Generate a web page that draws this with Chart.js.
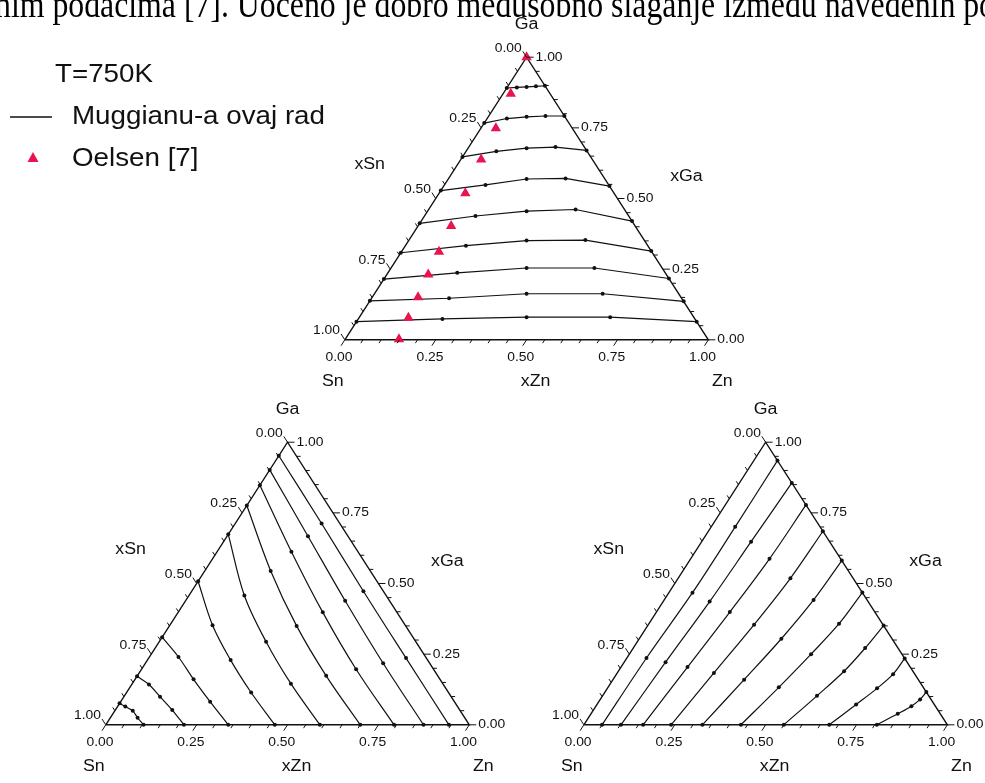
<!DOCTYPE html>
<html><head><meta charset="utf-8">
<script src="https://cdn.jsdelivr.net/npm/chart.js@4.4.1/dist/chart.umd.min.js"></script>
<style>html,body{margin:0;padding:0;background:#fff;overflow:hidden}#wrap{width:985px;height:783px}</style>
</head><body><div id="wrap"><canvas id="c" width="985" height="783"></canvas></div>
<script>
// ---------------- DATA ----------------
// sections: ratio r of the two non-fixed components, from 0 to 1
const sections = [0, 0.25, 0.5, 0.75, 1];
// Top diagram: xGa along sections r = xZn/(xZn+xSn)
const topGa = [
  [0.891, 0.893, 0.895, 0.897, 0.899],
  [0.767, 0.783, 0.789, 0.792, 0.792],
  [0.647, 0.667, 0.678, 0.682, 0.670],
  [0.528, 0.548, 0.569, 0.571, 0.544],
  [0.412, 0.438, 0.455, 0.461, 0.420],
  [0.308, 0.333, 0.351, 0.353, 0.314],
  [0.215, 0.237, 0.254, 0.254, 0.217],
  [0.138, 0.147, 0.163, 0.163, 0.136],
  [0.064, 0.074, 0.080, 0.080, 0.064]
];
// Bottom-left diagram: xSn along sections r = xGa/(xGa+xZn)
const leftSn = [
  [0.056, 0.056, 0.055, 0.050, 0.048],
  [0.126, 0.128, 0.122, 0.110, 0.098],
  [0.207, 0.213, 0.204, 0.183, 0.152],
  [0.300, 0.307, 0.300, 0.274, 0.224],
  [0.411, 0.418, 0.412, 0.390, 0.326],
  [0.535, 0.543, 0.542, 0.530, 0.492],
  [0.663, 0.672, 0.678, 0.680, 0.690],
  [0.785, 0.791, 0.801, 0.810, 0.828],
  [0.896, 0.900, 0.901, 0.914, 0.924]
];
// Bottom-right diagram: xZn along sections r = xGa/(xGa+xSn)
const rightZn = [
  [0.050, 0.054, 0.065, 0.066, 0.065],
  [0.102, 0.114, 0.128, 0.136, 0.144],
  [0.163, 0.183, 0.202, 0.217, 0.222],
  [0.240, 0.266, 0.291, 0.309, 0.315],
  [0.326, 0.361, 0.391, 0.411, 0.419],
  [0.432, 0.470, 0.500, 0.523, 0.532],
  [0.550, 0.590, 0.621, 0.638, 0.649],
  [0.675, 0.713, 0.742, 0.761, 0.765],
  [0.806, 0.844, 0.868, 0.880, 0.884]
];
// Oelsen [7] experimental points (top diagram)
const oelsenZn = [0.000, 0.021, 0.041, 0.056, 0.072, 0.091, 0.103, 0.114, 0.126, 0.136, 0.148];
const oelsenGa = [1.000, 0.871, 0.749, 0.638, 0.519, 0.403, 0.312, 0.231, 0.151, 0.078, 0.002];

const tickValues = [0, 0.25, 0.5, 0.75, 1];
const tickLabels = ['0.00', '0.25', '0.50', '0.75', '1.00'];
const legendTitle = 'T=750K';
const legendLabels = ['Muggianu-a ovaj rad', 'Oelsen [7]'];
const headerText = 'nim podacima [7]. Uočeno je dobro međusobno slaganje između navedenih po';

// ---------------- LAYOUT ----------------
const panels = [
  {x0: 343, y0: 339, w: 368, h: 287, fixed: 'Ga', a: 'Zn', lines: topGa, smooth: 0},
  {x0: 101, y0: 730, w: 368, h: 287, fixed: 'Sn', a: 'Ga', lines: leftSn, smooth: 0.35},
  {x0: 585, y0: 730, w: 368, h: 287, fixed: 'Zn', a: 'Ga', lines: rightZn, smooth: 0.35}
];
const INK = '#111';
const RED = '#e8134f';
const SX = 1.11; // horizontal text stretch of the original picture

function comp(fixed, a, v, r) {
  const c = {};
  c[fixed] = v;
  c[a] = r * (1 - v);
  const b = ['Zn', 'Ga', 'Sn'].find(k => k !== fixed && k !== a);
  c[b] = (1 - r) * (1 - v);
  return c;
}
function toXY(p, c) { return {x: p.x0 + p.w * (c.Zn + c.Ga / 2), y: p.y0 - p.h * c.Ga}; }

const datasets = [];
panels.forEach(p => {
  const corners = [{Zn:0,Ga:0,Sn:1},{Zn:1,Ga:0,Sn:0},{Zn:0,Ga:1,Sn:0},{Zn:0,Ga:0,Sn:1}].map(c => toXY(p, c));
  datasets.push({data: corners, showLine: true, borderColor: INK, borderWidth: 1.4, pointRadius: 0, tension: 0, fill: false, order: 2});
  p.lines.forEach(vals => {
    const pts = sections.map((r, i) => toXY(p, comp(p.fixed, p.a, vals[i], r)));
    datasets.push({data: pts, showLine: true, borderColor: INK, borderWidth: 1.2, pointRadius: 2,
      pointBackgroundColor: INK, pointBorderWidth: 0, tension: p.smooth, fill: false, order: 1});
  });
});
datasets.push({
  data: oelsenZn.map((z, i) => toXY(panels[0], {Zn: z, Ga: oelsenGa[i], Sn: 1 - z - oelsenGa[i]})),
  showLine: false, pointStyle: 'triangle', pointRadius: 6, pointBackgroundColor: RED,
  pointBorderColor: RED, pointBorderWidth: 0, order: -1
});

function txt(ctx, s, x, y, align, font, base) {
  ctx.save();
  ctx.translate(x, y);
  ctx.scale(SX, 1);
  ctx.font = font;
  ctx.fillStyle = INK;
  ctx.textAlign = align;
  ctx.textBaseline = base || 'middle';
  ctx.fillText(s, 0, 0);
  ctx.restore();
}

const decor = {
  id: 'decor',
  afterDatasetsDraw(chart) {
    const ctx = chart.ctx;
    const xs = chart.scales.x, ys = chart.scales.y;
    const pix = q => ({x: xs.getPixelForValue(q.x), y: ys.getPixelForValue(q.y)});
    const norm = v => { const l = Math.hypot(v.x, v.y); return {x: v.x / l, y: v.y / l}; };
    const TF = "12.5px 'Liberation Sans', Arial, sans-serif";
    const AF = "16px 'Liberation Sans', Arial, sans-serif";
    panels.forEach(p => {
      const S = c => pix(toXY(p, c));
      const sn = S({Zn:0,Ga:0,Sn:1}), zn = S({Zn:1,Ga:0,Sn:0}), ga = S({Zn:0,Ga:1,Sn:0});
      const dB = norm({x: sn.x - ga.x, y: sn.y - ga.y});
      const dL = norm({x: ga.x - zn.x, y: ga.y - zn.y});
      const dR = {x: 1, y: 0};
      ctx.save();
      ctx.strokeStyle = INK; ctx.lineWidth = 1;
      const tick = (a, d, L) => {
        ctx.beginPath(); ctx.moveTo(a.x, a.y); ctx.lineTo(a.x + d.x * L, a.y + d.y * L); ctx.stroke();
      };
      for (let i = 0; i <= 20; i++) {
        const t = i / 20, major = i % 5 === 0, L = major ? 7 : 4;
        tick(S({Zn: t, Ga: 0, Sn: 1 - t}), dB, L);
        tick(S({Zn: 0, Ga: 1 - t, Sn: t}), dL, L);
        tick(S({Zn: 1 - t, Ga: t, Sn: 0}), dR, L);
      }
      ctx.restore();
      tickValues.forEach((t, k) => {
        const lab = tickLabels[k];
        let a = S({Zn: t, Ga: 0, Sn: 1 - t});
        let e = {x: a.x + dB.x * 7, y: a.y + dB.y * 7};
        txt(ctx, lab, e.x - 2, e.y + 12, 'center', TF);
        a = S({Zn: 0, Ga: 1 - t, Sn: t});
        e = {x: a.x + dL.x * 7, y: a.y + dL.y * 7};
        txt(ctx, lab, e.x - 1, e.y - 3, 'right', TF);
        a = S({Zn: 1 - t, Ga: t, Sn: 0});
        e = {x: a.x + 7, y: a.y};
        txt(ctx, lab, e.x + 2, e.y, 'left', TF);
      });
      // corner & axis titles
      txt(ctx, 'Ga', ga.x, ga.y - 33, 'center', AF);
      txt(ctx, 'Sn', sn.x - 12, sn.y + 42, 'center', AF);
      txt(ctx, 'Zn', zn.x + 14, zn.y + 42, 'center', AF);
      txt(ctx, 'xZn', (sn.x + zn.x) / 2 + 9, sn.y + 42, 'center', AF);
      txt(ctx, 'xSn', (sn.x + ga.x) / 2 - 66, (sn.y + ga.y) / 2 - 34, 'center', AF);
      txt(ctx, 'xGa', (zn.x + ga.x) / 2 + 69, (zn.y + ga.y) / 2 - 22, 'center', AF);
    });
    // legend
    const LF = "25px 'Liberation Sans', Arial, sans-serif";
    txt(ctx, legendTitle, 55, 75, 'left', LF);
    ctx.save();
    ctx.strokeStyle = INK; ctx.lineWidth = 1.5;
    ctx.beginPath(); ctx.moveTo(10, 117); ctx.lineTo(52, 117); ctx.stroke();
    ctx.fillStyle = RED;
    ctx.beginPath(); ctx.moveTo(33, 152); ctx.lineTo(38.5, 162); ctx.lineTo(27.5, 162); ctx.closePath(); ctx.fill();
    ctx.restore();
    txt(ctx, legendLabels[0], 72, 117, 'left', LF);
    txt(ctx, legendLabels[1], 72, 159, 'left', LF);
    // header text (cut at top)
    ctx.save();
    ctx.font = "37px 'Liberation Serif', 'Times New Roman', serif";
    const w = ctx.measureText(headerText).width;
    const k = 1000 / w;
    ctx.translate(-5, 17);
    ctx.scale(k, 1);
    ctx.fillStyle = '#000';
    ctx.textAlign = 'left'; ctx.textBaseline = 'alphabetic';
    ctx.fillText(headerText, 0, 0);
    ctx.restore();
  }
};

new Chart(document.getElementById('c'), {
  type: 'scatter',
  data: {datasets},
  options: {
    responsive: false, animation: false, devicePixelRatio: 1,
    layout: {padding: 0},
    plugins: {legend: {display: false}, tooltip: {enabled: false}},
    scales: {
      x: {type: 'linear', min: 0, max: 985, display: false},
      y: {type: 'linear', min: 0, max: 783, reverse: true, display: false}
    }
  },
  plugins: [decor]
});
</script></body></html>
